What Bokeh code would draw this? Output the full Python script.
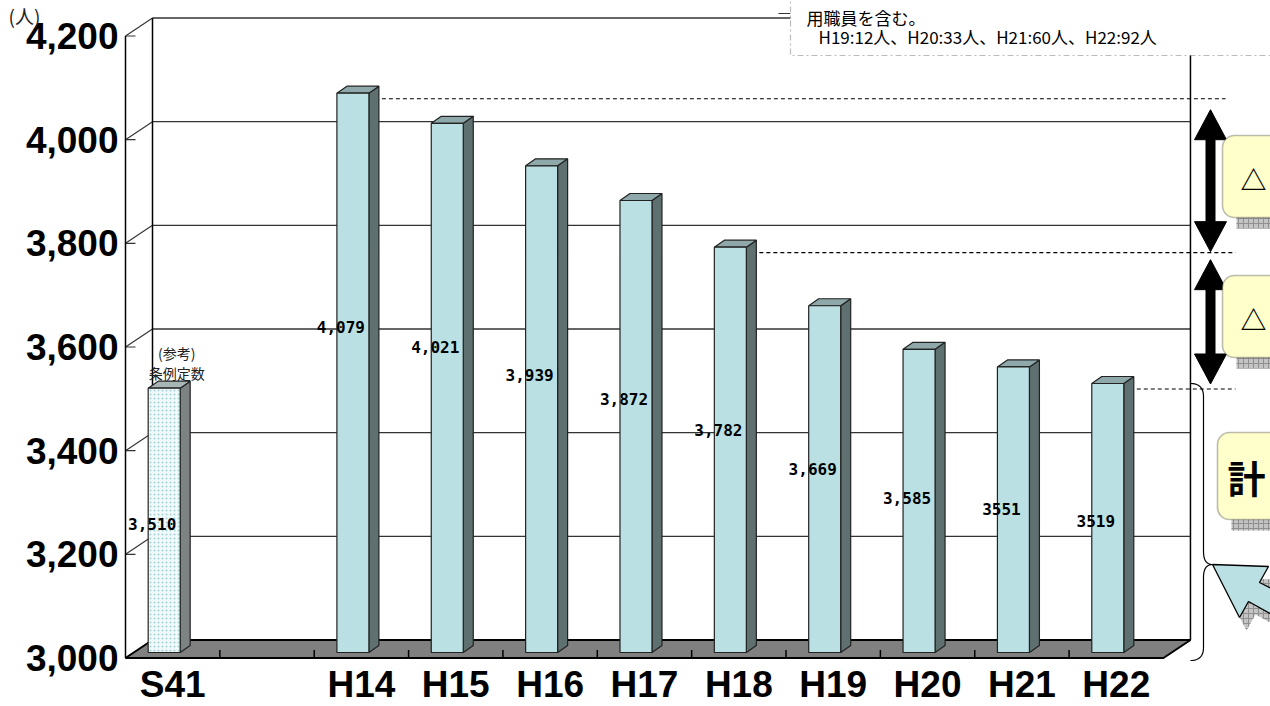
import numpy as np
from bokeh.plotting import figure
from bokeh.models import Range1d, Label, BoxAnnotation, ColumnDataSource
from bokeh.core.properties import value
from bokeh.embed import file_html
from bokeh.resources import INLINE

# ---------------- data ----------------
categories = ["S41", "", "H14", "H15", "H16", "H17", "H18", "H19", "H20", "H21", "H22"]
staff = [3510, None, 4079, 4021, 3939, 3872, 3782, 3669, 3585, 3551, 3519]
staff_labels = ["3,510", "", "4,079", "4,021", "3,939", "3,872", "3,782",
                "3,669", "3,585", "3551", "3519"]
y_ticks = [3000, 3200, 3400, 3600, 3800, 4000, 4200]
y_tick_labels = ["3,000", "3,200", "3,400", "3,600", "3,800", "4,000", "4,200"]
unit_label = "(人)"
s41_note = ["(参考)", "条例定数"]
note_lines = ["用職員を含む。", "H19:12人、H20:33人、H21:60人、H22:92人"]
ref_points = ["H14", "H18", "H22"]
box_texts = ["△", "△", "計"]

# ---------------- geometry of the 3-D look (pixels) ----------------
W, H = 1270, 706
FX, FY = 125.0, 657.5          # front-left corner of floor
CW = 94.36                     # px per category
KY = 622.0 / 1200.0            # px per person
BASE = y_ticks[0]


def X(px):
    return -0.5 + (px - FX) / CW


def Y(py):
    return BASE + (FY - py) / KY


def dxp(px):
    return px / CW


def dyp(py):
    return py / KY


def PY(v):
    return FY - (v - BASE) * KY


WDX, WDY = dxp(27), dyp(18)        # wall depth
BX0, BX1 = dxp(-24.5), dxp(7.5)    # bar front face relative to category center
BY = dyp(5.5)                      # bar front plane lift
BDX, BDY = dxp(10), dyp(7)         # bar depth

p = figure(width=W, height=H, output_backend="svg", toolbar_location=None,
           x_range=Range1d(X(0), X(W)), y_range=Range1d(Y(H), Y(0)),
           x_axis_location=None, y_axis_location=None,
           min_border_left=0, min_border_right=0, min_border_top=0, min_border_bottom=0)
p.outline_line_color = None
p.xgrid.visible = False
p.ygrid.visible = False
p.background_fill_color = "white"
p.border_fill_color = "white"

n = len(categories)
xl, xr = -0.5, n - 0.5
top = y_ticks[-1]
GRID = "#333333"

# value-axis tick labels on the front plane
p.text(x=[X(118)] * len(y_ticks), y=y_ticks, text=y_tick_labels,
       text_font=value("Liberation Sans"), text_font_style="bold", text_font_size="37px",
       text_align="right", text_baseline="middle", text_color="black")
p.text(x=[X(8)], y=[Y(15)], text=[unit_label], text_font=value("Noto Sans CJK JP"),
       text_font_size="19px", text_align="left", text_baseline="middle", text_color="#222")

# category labels below the floor
xt = [i for i, c in enumerate(categories) if c]
p.text(x=xt, y=[Y(684)] * len(xt), text=[categories[i] for i in xt],
       text_font=value("Liberation Sans"), text_font_style="bold", text_font_size="37px",
       text_align="center", text_baseline="middle", text_color="black")

# back wall grid lines
p.segment(x0=[xl + WDX] * len(y_ticks), y0=[t + WDY for t in y_ticks],
          x1=[xr + WDX] * len(y_ticks), y1=[t + WDY for t in y_ticks],
          line_color=GRID, line_width=1.4)
# left wall diagonals and inner ticks
p.segment(x0=[xl] * len(y_ticks), y0=y_ticks, x1=[xl + WDX] * len(y_ticks),
          y1=[t + WDY for t in y_ticks], line_color=GRID, line_width=1.2)
p.segment(x0=[xl] * len(y_ticks), y0=y_ticks, x1=[xl + dxp(10)] * len(y_ticks),
          y1=y_ticks, line_color=GRID, line_width=1.2)
# wall edges
p.segment(x0=[xl, xl + WDX, xr + WDX], y0=[BASE, BASE + WDY, BASE + WDY],
          x1=[xl, xl + WDX, xr + WDX], y1=[top, top + WDY, top + WDY],
          line_color="black", line_width=1.5)

# floor
p.patch(x=[xl, xr, xr + WDX, xl + WDX], y=[BASE, BASE, BASE + WDY, BASE + WDY],
        fill_color="#808080", line_color="black", line_width=2)
bounds = [k + 0.5 for k in range(n - 1)]
p.segment(x0=bounds, y0=[BASE] * len(bounds), x1=bounds, y1=[BASE + dyp(8)] * len(bounds),
          line_color="black", line_width=1.5)


# bars
def bar_shapes(ids):
    fl, fr, fb, ft = [], [], [], []
    sx, sy, tx, ty = [], [], [], []
    for i in ids:
        v = staff[i]
        l, r, b, t = i + BX0, i + BX1, BASE + BY, v + BY
        fl.append(l); fr.append(r); fb.append(b); ft.append(t)
        sx.append([r, r + BDX, r + BDX, r]); sy.append([b, b + BDY, t + BDY, t])
        tx.append([l, r, r + BDX, l + BDX]); ty.append([t, t, t + BDY, t + BDY])
    return (ColumnDataSource(dict(left=fl, right=fr, bottom=fb, top=ft)),
            ColumnDataSource(dict(xs=sx, ys=sy)), ColumnDataSource(dict(xs=tx, ys=ty)))


ids = [i for i, v in enumerate(staff) if v is not None]
ref_id = [ids[0]]
main_ids = ids[1:]

f, s, t = bar_shapes(ref_id)
p.patches("xs", "ys", source=s, fill_color="#7d8383", line_color="#222", line_width=1.2)
p.patches("xs", "ys", source=t, fill_color="#a9b6b6", line_color="#222", line_width=1.2)
p.quad(left="left", right="right", bottom="bottom", top="top", source=f,
       fill_color="#f3fafb", hatch_pattern="dot", hatch_color="#9fd3d8", hatch_scale=4,
       line_color="#222", line_width=1.2)

f, s, t = bar_shapes(main_ids)
p.patches("xs", "ys", source=s, fill_color="#5f7070", line_color="#222", line_width=1.2)
p.patches("xs", "ys", source=t, fill_color="#8fa9aa", line_color="#222", line_width=1.2)
p.quad(left="left", right="right", bottom="bottom", top="top", source=f,
       fill_color="#bae0e3", line_color="#222", line_width=1.2)

# value labels (placed part-way up each bar)
lab = ColumnDataSource(dict(x=[i + dxp(-20.5) for i in ids],
                            y=[BASE + (staff[i] - BASE) * 0.667 - 81 for i in ids],
                            text=[staff_labels[i] for i in ids]))
p.text(x="x", y="y", text="text", source=lab, text_font=value("DejaVu Sans Mono"),
       text_font_style="bold", text_font_size="16px", text_align="center",
       text_baseline="middle", text_color="black")

# reference note above S41
i0 = ids[0]
top0 = staff[i0] + BY
p.text(x=[i0 + dxp(4)] * 2, y=[top0 + dyp(35), top0 + dyp(15)], text=s41_note,
       text_font=value("Noto Sans CJK JP"), text_font_size="14px", text_align="center",
       text_baseline="middle", text_color="#222")

# dashed reference lines
ref_ids = [categories.index(c) for c in ref_points]
ends = [X(1225), X(1235), X(1235)]
p.segment(x0=[j + BX1 + BDX + dxp(3) for j in ref_ids], y0=[staff[j] for j in ref_ids],
          x1=ends, y1=[staff[j] for j in ref_ids], line_color="black",
          line_dash="4 3", line_width=1.1)


# double arrows between reference levels
def darrow(tp, bp, cx=1210.0, hw=4.5, hh=16.0, hl=30.0):
    pts = [(cx, tp), (cx + hh, tp + hl), (cx + hw, tp + hl), (cx + hw, bp - hl),
           (cx + hh, bp - hl), (cx, bp), (cx - hh, bp - hl), (cx - hw, bp - hl),
           (cx - hw, tp + hl), (cx - hh, tp + hl)]
    return [X(a) for a, _ in pts], [Y(b) for _, b in pts]


ax, ay = [], []
for (a, b), (ti, bi) in zip(zip(ref_ids[:-1], ref_ids[1:]), [(11, 1), (7, 5)]):
    xx, yy = darrow(PY(staff[a]) + ti, PY(staff[b]) - bi)
    ax.append(xx); ay.append(yy)
p.patches(xs=ax, ys=ay, fill_color="black", line_color="black")


# brace
def qbez(p0, c, p1, k=12):
    tt = np.linspace(0, 1, k)
    return [((1 - u) ** 2 * p0[0] + 2 * (1 - u) * u * c[0] + u ** 2 * p1[0],
             (1 - u) ** 2 * p0[1] + 2 * (1 - u) * u * c[1] + u ** 2 * p1[1]) for u in tt]


br = (qbez((1190, 383), (1203, 383), (1203, 396)) +
      qbez((1203, 551), (1203, 564), (1212, 564)) +
      qbez((1212, 564), (1203, 564), (1203, 577)) +
      qbez((1203, 647), (1203, 660), (1190, 660)))
p.line(x=[X(a) for a, _ in br], y=[Y(b) for _, b in br], line_color="black", line_width=1.2)

# light-blue pointer arrow with shadow
arrow_pts = [(1212, 564), (1268, 566), (1259, 582), (1275, 590), (1275, 616),
             (1248, 601), (1239, 617)]
p.patch(x=[X(a + 7) for a, _ in arrow_pts], y=[Y(b + 13) for _, b in arrow_pts],
        fill_color="#c4c4c4", hatch_pattern="+", hatch_color="#8f8f8f", hatch_scale=5,
        line_color=None)
p.patch(x=[X(a) for a, _ in arrow_pts], y=[Y(b) for _, b in arrow_pts],
        fill_color="#bae0e3", line_color="black", line_width=1.3)

# yellow boxes with shadows
boxes = [(1222, 135, 217), (1222, 275, 357), (1217, 432, 519)]
for (l, tp, bt) in boxes:
    p.add_layout(BoxAnnotation(left=X(l + 14), right=X(1300), top=Y(bt - 2), bottom=Y(bt + 11),
                               fill_color="#c4c4c4", fill_alpha=1, hatch_pattern="+",
                               hatch_color="#909090", hatch_scale=5, line_color=None))
    p.add_layout(BoxAnnotation(left=X(l), right=X(1300), top=Y(tp), bottom=Y(bt),
                               fill_color="#ffffcc", fill_alpha=1, line_color="#222",
                               line_width=1.6, border_radius=12))
for (l, tp, bt), txt in zip(boxes, box_texts):
    big = txt == "計"
    p.add_layout(Label(x=X(1227 if big else 1240), y=Y((tp + bt) / 2 + (0 if big else 2)),
                       text=txt, text_font="Noto Sans CJK JP", text_font_style="bold",
                       text_font_size="38px" if big else "26px", text_baseline="middle",
                       text_align="left", text_color="black"))

# note box at top right
p.segment(x0=[X(778)], y0=[Y(13)], x1=[X(790)], y1=[Y(13)], line_color="#333", line_width=1)
p.add_layout(BoxAnnotation(left=X(790), right=X(1300), top=Y(-30), bottom=Y(55),
                           fill_color="white", fill_alpha=1, line_color="#222",
                           line_dash="6 3 2 3", line_width=1.2))
for (lx, ly), txt in zip([(806, 17), (818, 36)], note_lines):
    p.add_layout(Label(x=X(lx), y=Y(ly), text=txt, text_font="Noto Sans CJK JP",
                       text_font_size="17px", text_baseline="middle", text_color="black"))

open("out.html", "w").write(file_html(p, INLINE))
